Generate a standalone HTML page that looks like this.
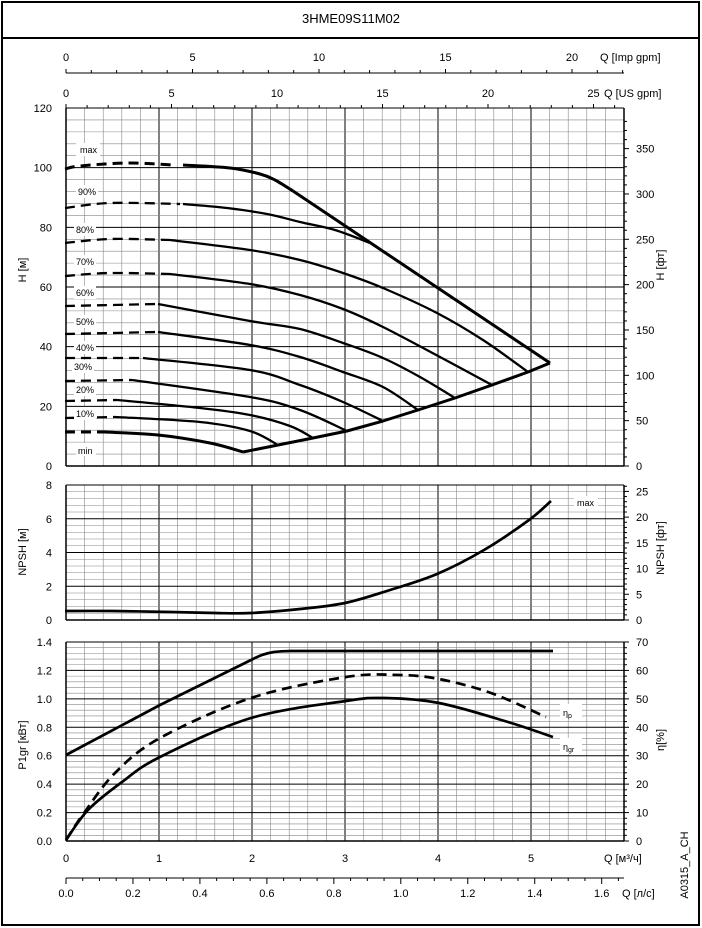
<!DOCTYPE html>
<html><head><meta charset="utf-8"><style>
html,body{margin:0;padding:0;background:#fff}
svg{display:block}
text{font-family:"Liberation Sans",sans-serif;fill:#000}
</style></head><body>
<svg id="s" width="702" height="928" viewBox="0 0 702 928" xmlns="http://www.w3.org/2000/svg">
<rect x="2" y="2" width="697" height="923" fill="#fff" stroke="#000" stroke-width="2"/>
<line x1="2" y1="38" x2="699" y2="38" stroke="#000" stroke-width="2"/>
<text x="351" y="23" font-size="13" text-anchor="middle">3HME09S11M02</text>
<g id="grid"></g>
<g id="ticks" font-size="11"></g>
<g id="curves" fill="none" stroke="#000" stroke-linejoin="round" stroke-linecap="butt"></g>
<g font-size="9">
 <rect x="76" y="143" width="24" height="13" fill="#fff"/><text x="80" y="153">max</text>
 <rect x="76" y="185" width="22" height="13" fill="#fff"/><text x="78" y="195">90%</text>
 <rect x="74" y="223" width="22" height="13" fill="#fff"/><text x="76" y="233">80%</text>
 <rect x="74" y="255" width="22" height="13" fill="#fff"/><text x="76" y="265">70%</text>
 <rect x="74" y="286" width="22" height="13" fill="#fff"/><text x="76" y="296">60%</text>
 <rect x="74" y="315" width="22" height="13" fill="#fff"/><text x="76" y="325">50%</text>
 <rect x="74" y="341" width="22" height="13" fill="#fff"/><text x="76" y="351">40%</text>
 <rect x="72" y="360" width="22" height="13" fill="#fff"/><text x="74" y="370">30%</text>
 <rect x="74" y="383" width="22" height="13" fill="#fff"/><text x="76" y="393">20%</text>
 <rect x="74" y="407" width="22" height="13" fill="#fff"/><text x="76" y="417">10%</text>
 <rect x="76" y="443" width="20" height="13" fill="#fff"/><text x="78" y="454">min</text>
 <rect x="574" y="496" width="24" height="13" fill="#fff"/><text x="577" y="506">max</text>
 <rect x="560" y="704" width="22" height="16" fill="#fff"/><text x="563" y="716">η<tspan font-size="7" dy="2">p</tspan></text>
 <rect x="560" y="738" width="22" height="16" fill="#fff"/><text x="563" y="750">η<tspan font-size="7" dy="2">gr</tspan></text>
</g>
<g font-size="11">
 <text transform="translate(26,270) rotate(-90)" text-anchor="middle">H [м]</text>
 <text transform="translate(26,552) rotate(-90)" text-anchor="middle">NPSH [м]</text>
 <text transform="translate(26,745) rotate(-90)" text-anchor="middle">P1gr [кВт]</text>
 <text transform="translate(664,265) rotate(-90)" text-anchor="middle">H [фт]</text>
 <text transform="translate(664,548) rotate(-90)" text-anchor="middle">NPSH [фт]</text>
 <text transform="translate(664,740) rotate(-90)" text-anchor="middle">η[%]</text>
 <text transform="translate(688,865) rotate(-90)" text-anchor="middle">A0315_A_CH</text>
 <text x="600" y="61">Q [Imp gpm]</text>
 <text x="604" y="97">Q [US gpm]</text>
 <text x="604" y="862">Q [м³/ч]</text>
 <text x="622" y="897">Q [л/с]</text>
</g>
</svg>
<script>
(function(){
var NS="http://www.w3.org/2000/svg",g=document.getElementById("grid"),t=document.getElementById("ticks"),cv=document.getElementById("curves");
function L(p,x1,y1,x2,y2,c,w){var e=document.createElementNS(NS,"line");e.setAttribute("x1",x1);e.setAttribute("y1",y1);e.setAttribute("x2",x2);e.setAttribute("y2",y2);e.setAttribute("stroke",c);e.setAttribute("stroke-width",w);p.appendChild(e);}
function T(x,y,s,a){var e=document.createElementNS(NS,"text");e.setAttribute("x",x);e.setAttribute("y",y);e.setAttribute("text-anchor",a||"middle");e.textContent=s;t.appendChild(e);}
function CR(p){var d="M"+p[0][0]+","+p[0][1];for(var i=0;i<p.length-1;i++){var a=p[i-1]||p[i],b=p[i],c=p[i+1],e=p[i+2]||c;
 d+=" C"+(b[0]+(c[0]-a[0])/6).toFixed(1)+","+(b[1]+(c[1]-a[1])/6).toFixed(1)+" "+(c[0]-(e[0]-b[0])/6).toFixed(1)+","+(c[1]-(e[1]-b[1])/6).toFixed(1)+" "+c[0]+","+c[1];}return d;}
function P(pts,w,dash,lin){var e=document.createElementNS(NS,"path");e.setAttribute("d",lin?"M"+pts.map(function(q){return q.join(",")}).join(" L"):CR(pts));e.setAttribute("stroke-width",w);if(dash)e.setAttribute("stroke-dasharray",dash);cv.appendChild(e);}
var X0=66,X1=624,PX=93;
function panel(yt,yb,vmax,minor,major,dec,rmax,rstep,rmaj,rfac){
  var h=yb-yt;
  for(var q=0;q<=30;q++){var x=X0+q*PX/5;if(x>X1+0.5)break;L(g,x,yt,x,yb,q%5==0?"#000":"#888",q%5==0?1:0.6);}
  var n=Math.round(vmax/minor);
  for(var i=0;i<=n;i++){var v=i*minor,y=yb-v/vmax*h;var m=Math.abs(v/major-Math.round(v/major))<1e-6;L(g,X0,y,X1,y,m?"#000":"#888",m?1:0.6);
   if(m){T(52,y+4,v.toFixed(dec),"end");}}
  L(g,X0,yt,X0,yb,"#000",1.5);L(g,X1,yt,X1,yb,"#000",1.5);L(g,X0,yb,X1,yb,"#000",1.5);L(g,X0,yt,X1,yt,"#000",1);
  for(var r=0;r<=rmax+1e-6;r+=rstep){var y=yb-r*rfac;if(y<yt-0.5)break;var M=Math.abs(r/rmaj-Math.round(r/rmaj))<1e-6;L(g,X1,y,X1+(M?5:3),y,"#000",1);if(M)T(636,y+4,String(Math.round(r)),"start");}
}
panel(108,466,120,4,20,0,380,10,50,357/120*0.3048);
panel(485,620,8,0.4,2,0,26,1,5,135/8*0.3048);
panel(642,841,1.4,0.04,0.2,1,70,2,10,199/70);
for(var q=0;q<=5;q++)T(X0+q*PX,862,String(q));
L(g,X0,73,X1,73,"#000",1);
var ip=25.3;
for(var i=0;i<=22;i++){var x=X0+i*ip;if(x>X1)break;L(g,x,73,x,i%5==0?69:70,"#000",1);if(i%5==0)T(x,61,String(i));}
var up=21.1;
for(var i=0;i<=26;i++){var x=X0+i*up;if(x>X1)break;L(g,x,108,x,i%5==0?104:105,"#000",1);if(i%5==0)T(x,97,String(i));}
L(g,X0,878,X1,878,"#000",1);
var lp=PX*3.6;
for(var i=0;i<=33;i++){var x=X0+i*0.05*lp;if(x>X1)break;L(g,x,878,x,i%4==0?884:881,"#000",1);if(i%4==0)T(x,897,(i*0.05).toFixed(1));}

var D="10,6";
var dashes=[[[65,169],[80,166],[127,163],[173,165]],[[65,208],[110,203],[180,204]],[[65,243],[110,239],[170,240]],[[65,276],[110,273],[170,274]],[[65,306],[158,304]],[[65,334],[158,332]],[[65,358],[143,358]],[[65,381],[132,380]],[[65,401],[117,400]],[[65,418],[115,417]],[[65,432],[105,432]]];
dashes.forEach(function(p,i){P(p,(i==0||i==10)?3:2.3,D);});
P([[183,165],[230,168],[260,174],[275,180],[293,191]],3);
P([[293,191],[550,363]],3,null,true);
var sol=[
[[183,204],[227,208],[267,214],[300,222],[335,230],[370,243]],
[[170,240],[250,250],[300,260],[343,273],[383,288],[437,313],[483,340],[528,372]],
[[170,274],[250,284],[300,295],[343,309],[383,327],[440,357],[492,385]],
[[158,304],[250,321],[300,329],[343,343],[383,358],[420,377],[455,398]],
[[158,332],[250,345],[300,357],[343,372],[383,387],[418,410]],
[[143,358],[250,370],[300,385],[343,402],[383,421]],
[[132,380],[250,397],[300,410],[347,431]],
[[117,400],[200,408],[250,415],[290,426],[313,438]],
[[115,417],[200,422],[250,431],[278,445]]];
sol.forEach(function(p){P(p,2.3);});
P([[105,432],[158,435],[210,443],[243,452]],3);
P([[243,452],[278,445],[313,438],[347,431],[383,421],[418,410],[455,398],[492,385],[528,372],[550,363]],3,null,true);
P([[65,611],[112,611],[170,612],[215,613],[251,613],[300,609],[345,603],[390,590],[437,574],[484,550],[529,520],[551,501]],2.7);
P([[66,755],[160,705],[251,660]],2.7,null,true);
P([[251,660],[262,655],[274,652],[289,651]],2.7);
P([[289,651],[553,651]],2.7,null,true);
P([[66,840],[84,813],[115,773],[160,738],[251,698],[346,677],[398,675],[439,679],[491,693],[546,717]],2.7,D);
P([[66,840],[88,810],[122,782],[160,757],[251,718],[346,701],[384,698],[439,703],[508,722],[553,737]],2.7);
})();
</script>
</body></html>
